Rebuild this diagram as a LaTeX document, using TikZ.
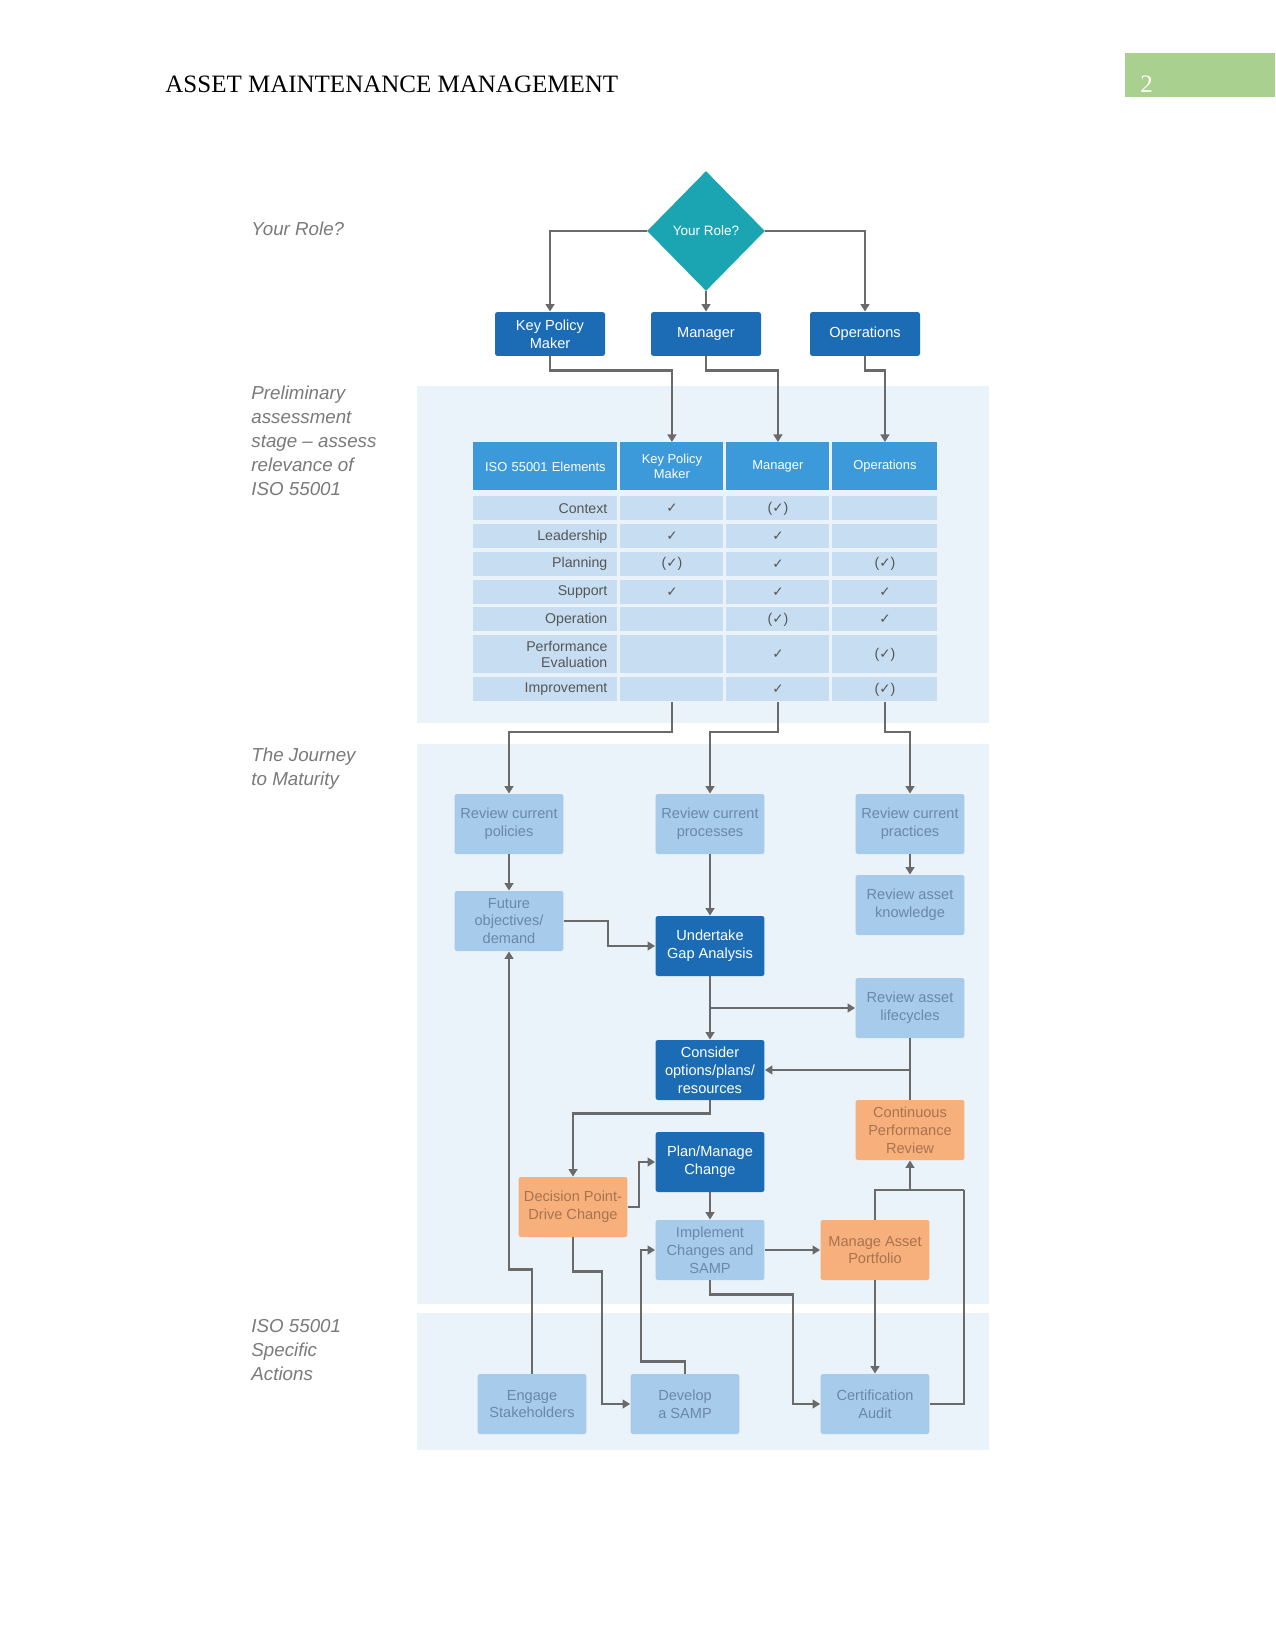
\documentclass[tikz,border=0pt]{standalone}
\usepackage{fontspec}
\setmainfont{Liberation Sans}
\newfontfamily\seriff{Liberation Serif}
\newfontfamily\dejavu{DejaVu Sans}
\usetikzlibrary{shapes.geometric,arrows.meta,calc}
\definecolor{darkblue}{HTML}{1B6CB5}
\definecolor{tealc}{HTML}{1BA5B3}
\definecolor{hdrblue}{HTML}{3C9ADB}
\definecolor{rowblue}{HTML}{C7DEF2}
\definecolor{lightbox}{HTML}{A6CBEB}
\definecolor{lbtext}{HTML}{6A88AA}
\definecolor{orangec}{HTML}{F7B07C}
\definecolor{otext}{HTML}{A8734F}
\definecolor{sectbg}{HTML}{EAF3F9}
\definecolor{linec}{HTML}{6A6A6A}
\definecolor{labgrey}{HTML}{7A7A7A}
\definecolor{greenhdr}{HTML}{A9D08E}
\definecolor{cellgrey}{HTML}{555555}
\newcommand\ck{{\dejavu\fontsize{6.5}{7}\selectfont ✓}}
\newcommand\pck{(\ck)}
\begin{document}
\begin{tikzpicture}[x=0.48pt,y=-0.48pt,
  arr/.style={draw=linec,line width=1.1pt,-{Triangle[width=4.2pt,length=3.6pt]}},
  conn/.style={draw=linec,line width=1.1pt},
  boxbase/.style={rectangle,rounded corners=1.2pt,minimum width=52.3pt,minimum height=28.8pt,inner sep=1pt,align=center,font=\fontsize{7}{8.6}\selectfont},
  dbox/.style={boxbase,fill=darkblue,text=white},
  lbox/.style={boxbase,fill=lightbox,text=lbtext},
  obox/.style={boxbase,fill=orangec,text=otext},
  rbox/.style={dbox,minimum width=52.8pt,minimum height=21.1pt},
  seclab/.style={anchor=west,align=left,inner sep=0,text=labgrey,font=\itshape\fontsize{9}{11.5}\selectfont},
  cellA/.style={anchor=north west,inner xsep=4.8pt,inner ysep=0,text width=59.5pt,align=right},
  cellN/.style={anchor=north west,inner sep=0,align=center},
  rowc/.style={fill=rowblue,text=cellgrey,font=\fontsize{6.8}{8}\selectfont},
  hdrc/.style={fill=hdrblue,text=white,font=\fontsize{6.2}{7.6}\selectfont}
]
\useasboundingbox (0,0) rectangle (1275,1650);
\fill[white] (0,0) rectangle (1275,1650);

% page header
\node[anchor=base west,inner sep=0,font=\seriff\fontsize{12}{14}\selectfont] (title) at (165,93) {ASSET MAINTENANCE MANAGEMENT};
\fill[greenhdr] (1125,53) rectangle (1275,97);
\node[anchor=base west,inner sep=0,text=white,font=\seriff\fontsize{12}{14}\selectfont] (pnum) at (1140,93) {2};

% section backgrounds
\fill[sectbg] (417,386) rectangle (989,723);
\fill[sectbg] (417,744) rectangle (989,1304);
\fill[sectbg] (417,1313) rectangle (989,1450);

% section labels
\node[seclab] (lab1) at (251,229) {Your Role?};
\node[seclab] (lab2) at (251,441) {Preliminary\\assessment\\stage -- assess\\relevance of\\ISO 55001};
\node[seclab] (lab3) at (251,769) {The Journey\\to Maturity};
\node[seclab] (lab4) at (251,1350) {ISO 55001\\Specific\\Actions};

% role decision
\node[diamond,aspect=1,fill=tealc,minimum width=56.6pt,minimum height=57.6pt,inner sep=0,text=white,font=\fontsize{6.5}{7.5}\selectfont] (role) at (706,231) {Your Role?};
\node[rbox] (kpm) at (550,334) {Key Policy\\Maker};
\node[rbox] (mgr) at (706,334) {Manager};
\node[rbox] (ops) at (865,334) {Operations};
\draw[arr] (role.west) -| (kpm.north);
\draw[arr] (role.south) -- (mgr.north);
\draw[arr] (role.east) -| (ops.north);

% table
\newcommand\tabrow[7]{%
  \node[cellA,rowc,minimum height=#3] (r#1a) at (473,#2) {#4};
  \node[cellN,rowc,minimum height=#3,minimum width=49.44pt] (r#1b) at (620,#2) {#5};
  \node[cellN,rowc,minimum height=#3,minimum width=49.44pt] (r#1c) at (726,#2) {#6};
  \node[cellN,rowc,minimum height=#3,minimum width=50.4pt] (r#1d) at (832,#2) {#7};
}
\node[cellA,hdrc,minimum height=23.04pt,align=center] (h0a) at (473,442) {ISO 55001 Elements};
\node[cellN,hdrc,minimum height=23.04pt,minimum width=49.44pt] (h0b) at (620,442) {Key Policy\\Maker};
\node[cellN,hdrc,minimum height=23.04pt,minimum width=49.44pt] (h0c) at (726,442) {Manager};
\node[cellN,hdrc,minimum height=23.04pt,minimum width=50.4pt] (h0d) at (832,442) {Operations};
\tabrow{1}{496}{11.52pt}{Context}{\ck}{\pck}{}
\tabrow{2}{524}{11.52pt}{Leadership}{\ck}{\ck}{}
\tabrow{3}{551.5}{11.52pt}{Planning}{\pck}{\ck}{\pck}
\tabrow{4}{579.5}{11.52pt}{Support}{\ck}{\ck}{\ck}
\tabrow{5}{607}{11.52pt}{Operation}{}{\pck}{\ck}
\tabrow{6}{635}{18.24pt}{Performance\\Evaluation}{}{\ck}{\pck}
\tabrow{7}{677}{11.52pt}{Improvement}{}{\ck}{\pck}

\draw[arr] (kpm.south) -- ++(0,14) -| (h0b.north);
\draw[arr] (mgr.south) -- ++(0,14) -| (h0c.north);
\draw[arr] (ops.south) -- ++(0,14) -| (h0d.north);

% journey boxes
\node[lbox] (rpol) at (509,824) {Review current\\policies};
\node[lbox] (rproc) at (710,824) {Review current\\processes};
\node[lbox] (rprac) at (910,824) {Review current\\practices};
\node[lbox] (fut) at (509,921) {Future\\objectives/\\demand};
\node[dbox] (gap) at (710,946) {Undertake\\Gap Analysis};
\node[lbox] (rknow) at (910,905) {Review asset\\knowledge};
\node[lbox] (rlife) at (910,1008) {Review asset\\lifecycles};
\node[dbox] (cons) at (710,1070) {Consider\\options/plans/\\resources};
\node[obox] (cpr) at (910,1130) {Continuous\\Performance\\Review};
\node[dbox] (plan) at (710,1162) {Plan/Manage\\Change};
\node[obox] (dec) at (573,1207) {Decision Point-\\Drive Change};
\node[lbox] (impl) at (710,1250) {Implement\\Changes and\\SAMP};
\node[obox] (map) at (875,1250) {Manage Asset\\Portfolio};
\node[lbox] (eng) at (532,1404) {Engage\\Stakeholders};
\node[lbox] (dev) at (685,1404) {Develop\\a SAMP};
\node[lbox] (cert) at (875,1404) {Certification\\Audit};

% table to journey
\draw[arr] (r7b.south) -- ++(0,30) -| (rpol.north);
\draw[arr] (r7c.south) -- ++(0,30) -| (rproc.north);
\draw[arr] (r7d.south) -- ++(0,30) -| (rprac.north);

% journey connectors
\draw[arr] (rpol.south) -- (fut.north);
\draw[arr] (rprac.south) -- (rknow.north);
\draw[arr] (rproc.south) -- (gap.north);
\draw[arr] (fut.east) -- ++(44,0) |- (gap.west);
\draw[arr] (gap.south) -- (cons.north);
\draw[arr] (gap.south |- rlife.west) -- (rlife.west);
\draw[conn] (rlife.south) -- (cpr.north);
\draw[arr] (rlife.south |- cons.east) -- (cons.east);
\draw[arr] (cons.south) -- ++(0,13) -| (dec.north);
\draw[arr] (dec.east) -- ++(11,0) |- (plan.west);
\draw[arr] (plan.south) -- (impl.north);
\draw[arr] (impl.east) -- (map.west);
\draw[arr] (map.south) -- (cert.north);
\coordinate (rj) at (964,1190);
\draw[conn] (map.north) |- (rj);
\draw[conn] (cert.east) -| (rj);
\draw[arr] (cpr.south |- rj) -- (cpr.south);
\draw[arr] (impl.south) -- ++(0,14) -| ([xshift=-13pt]cert.west) -- (cert.west);
\draw[arr] (dec.south) -- ++(0,34) -| ([xshift=-13.5pt]dev.west) -- (dev.west);
\draw[arr] (dev.north) -- ++(0,-12) -| ([xshift=-6.7pt]impl.west) -- (impl.west);
\draw[arr] (eng.north) -- ++(0,-104) -| (fut.south);
\end{tikzpicture}
\end{document}
